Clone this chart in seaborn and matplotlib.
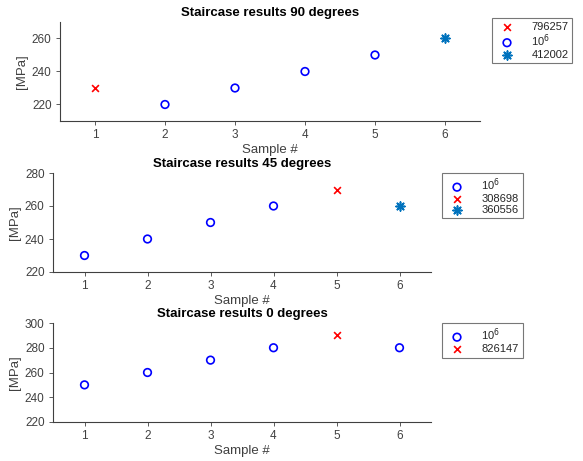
import matplotlib
matplotlib.use("Agg")
import matplotlib.pyplot as plt
import seaborn as sns
import pandas as pd

sns.set_theme(style="white")
plt.rcParams['font.family'] = ['Liberation Sans', 'DejaVu Sans']

# ---- data ----
titles = ["Staircase results 90 degrees", "Staircase results 45 degrees", "Staircase results 0 degrees"]

# 90 degrees
s90_x_fail = [1];            s90_y_fail = [230];  s90_lab_fail = "796257"
s90_x_run = [2, 3, 4, 5];    s90_y_run = [220, 230, 240, 250]
s90_x_star = [6];            s90_y_star = [260];  s90_lab_star = "412002"

# 45 degrees
s45_x_run = [1, 2, 3, 4];    s45_y_run = [230, 240, 250, 260]
s45_x_fail = [5];            s45_y_fail = [270];  s45_lab_fail = "308698"
s45_x_star = [6];            s45_y_star = [260];  s45_lab_star = "360556"

# 0 degrees
s0_x_run = [1, 2, 3, 4, 6];  s0_y_run = [250, 260, 270, 280, 280]
s0_x_fail = [5];             s0_y_fail = [290];   s0_lab_fail = "826147"

runout_label = "10$^6$"
ylims = [(210, 270), (220, 280), (220, 300)]
yticks = [[220, 240, 260], [220, 240, 260, 280], [220, 240, 260, 280, 300]]
xticks = [1, 2, 3, 4, 5, 6]

RED = "#ff0000"
BLUE = "#0000ff"
STAR = "#0072BD"
AX = "#404040"

W, H = 583, 461
fig = plt.figure(figsize=(W / 100, H / 100), dpi=100)

def rect(l, t, r, b):
    return [l / W, 1 - b / H, (r - l) / W, (b - t) / H]

ax_rects = [rect(60, 22, 480, 121), rect(53, 173, 431, 272), rect(53, 323, 431, 422)]
leg_anchor = [(492, 18), (442, 173), (442, 323)]

def draw(ax, series):
    for kind, xs, ys, lab in series:
        df = pd.DataFrame({"x": xs, "y": ys})
        if kind == "o":
            sns.scatterplot(data=df, x="x", y="y", ax=ax, marker="o", s=30,
                            facecolor="none", edgecolor=BLUE, linewidth=1.2, label=lab)
        elif kind == "x":
            sns.scatterplot(data=df, x="x", y="y", ax=ax, marker="x", s=24,
                            color=RED, linewidth=1.2, label=lab)
        else:
            sns.scatterplot(data=df, x="x", y="y", ax=ax, marker=(8, 2, 0), s=40,
                            color=STAR, edgecolor=STAR, linewidth=1.2, label=lab)

all_series = [
    [("x", s90_x_fail, s90_y_fail, s90_lab_fail),
     ("o", s90_x_run, s90_y_run, runout_label),
     ("*", s90_x_star, s90_y_star, s90_lab_star)],
    [("o", s45_x_run, s45_y_run, runout_label),
     ("x", s45_x_fail, s45_y_fail, s45_lab_fail),
     ("*", s45_x_star, s45_y_star, s45_lab_star)],
    [("o", s0_x_run, s0_y_run, runout_label),
     ("x", s0_x_fail, s0_y_fail, s0_lab_fail)],
]

for i in range(3):
    ax = fig.add_axes(ax_rects[i])
    draw(ax, all_series[i])
    ax.set_xlim(0.5, 6.5)
    ax.set_ylim(*ylims[i])
    ax.set_xticks(xticks)
    ax.set_yticks(yticks[i])
    ax.set_xlabel("Sample #", fontsize=9.5, color=AX, labelpad=2)
    ax.set_ylabel("[MPa]", fontsize=9.5, color=AX, labelpad=3)
    ax.set_title(titles[i], fontsize=9.5, fontweight="bold", color="black", pad=4)
    for s in ["top", "right"]:
        ax.spines[s].set_visible(False)
    for s in ["left", "bottom"]:
        ax.spines[s].set_color(AX)
        ax.spines[s].set_linewidth(0.8)
    ax.tick_params(axis="both", direction="out", length=3, width=0.6, colors=AX,
                   labelsize=8.5, pad=3, left=True, bottom=True)
    l, t = leg_anchor[i]
    leg = ax.legend(loc="upper left",
                    bbox_to_anchor=(l / W, 1 - t / H),
                    bbox_transform=fig.transFigure,
                    frameon=True, fancybox=False, fontsize=8,
                    borderpad=0.35, labelspacing=0.05, handletextpad=1.2,
                    handlelength=2.0, borderaxespad=0)
    leg.get_frame().set_edgecolor("#555555")
    leg.get_frame().set_linewidth(0.8)

fig.savefig("out.png", dpi=100)
